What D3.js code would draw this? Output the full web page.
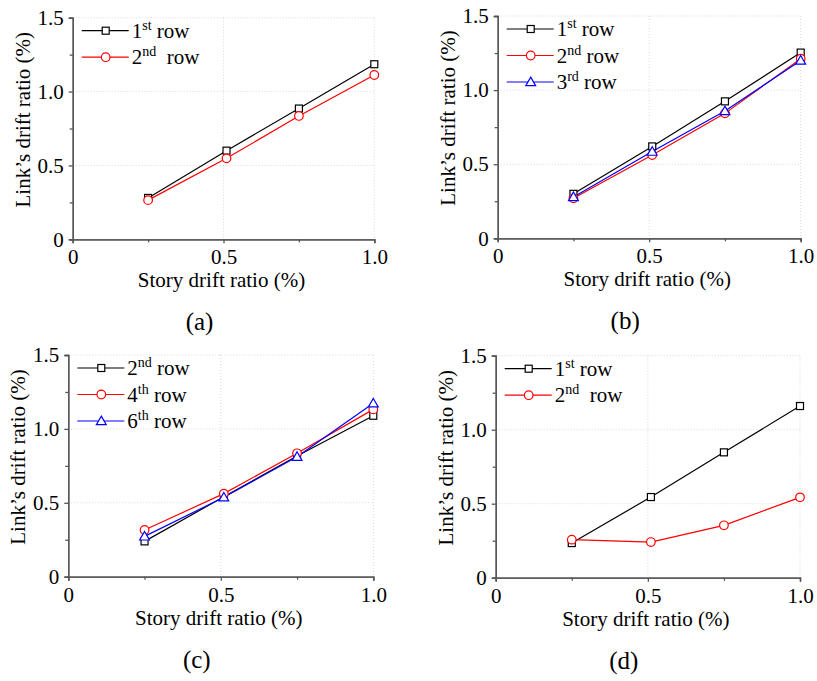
<!DOCTYPE html>
<html>
<head>
<meta charset="utf-8">
<script src="https://cdn.jsdelivr.net/npm/d3@7"></script>
<style>
  body { margin: 0; background: #fff; }
  svg text { font-family: "Liberation Serif", "Times New Roman", serif; }
</style>
</head>
<body>
<svg id="chart" width="817" height="681"></svg>
<script>
// story drift ratio (x) for all panels
const storyDrift = [0.25, 0.51, 0.75, 1.0];
const xTicks = [0, 0.5, 1.0];
const yTicks = [0, 0.5, 1.0, 1.5];

// link drift ratio
const a_row1 = [0.28, 0.60, 0.885, 1.185];
const a_row2 = [0.265, 0.548, 0.835, 1.112];

const b_row1 = [0.30, 0.62, 0.924, 1.253];
const b_row2 = [0.27, 0.562, 0.843, 1.212];
const b_row3 = [0.279, 0.585, 0.859, 1.20];

const c_row2 = [0.239, 0.541, 0.817, 1.089];
const c_row4 = [0.316, 0.562, 0.835, 1.132];
const c_row6 = [0.273, 0.537, 0.812, 1.173];

const d_row1 = [0.234, 0.545, 0.847, 1.160];
const d_row2 = [0.257, 0.241, 0.354, 0.543];

const captions = ["(a)", "(b)", "(c)", "(d)"];
const xTitle = "Story drift ratio (%)";
const yTitle = "Link\u2019s drift ratio (%)";

// series: [values, ordinal number, superscript, suffix, colour, marker]
let panels = [
  { box: [72.7, 374.3, 17.7, 239.3], series: [
      [a_row1, "1", "st", " row", "#000", "square"],
      [a_row2, "2", "nd", "  row", "#ff0000", "circle"]] },
  { box: [497.7, 800.7, 16, 238.3], series: [
      [b_row1, "1", "st", " row", "#000", "square"],
      [b_row2, "2", "nd", " row", "#ff0000", "circle"],
      [b_row3, "3", "rd", " row", "#0000ff", "triangle"]] },
  { box: [68.3, 373.3, 355, 576.7], series: [
      [c_row2, "2", "nd", " row", "#000", "square"],
      [c_row4, "4", "th", " row", "#ff0000", "circle"],
      [c_row6, "6", "th", " row", "#0000ff", "triangle"]] },
  { box: [495.7, 800, 355.7, 577.7], series: [
      [d_row1, "1", "st", " row", "#000", "square"],
      [d_row2, "2", "nd", "  row", "#ff0000", "circle"]] }
];

const svg = d3.select("#chart");

function drawMarker(g, type, cx, cy, color) {
  if (type == "square") {
    g.append("rect").attr("x", cx - 3.5).attr("y", cy - 3.5)
      .attr("width", 7).attr("height", 7)
      .attr("fill", "#fff").attr("stroke", color).attr("stroke-width", 1.2);
  } else if (type == "circle") {
    g.append("circle").attr("cx", cx).attr("cy", cy).attr("r", 4.3)
      .attr("fill", "#fff").attr("stroke", color).attr("stroke-width", 1.2);
  } else {
    g.append("path")
      .attr("d", d3.symbol().type(d3.symbolTriangle).size(42)())
      .attr("transform", "translate(" + cx + "," + (cy + 0.8) + ")")
      .attr("fill", "#fff").attr("stroke", color).attr("stroke-width", 1.2);
  }
}

panels.forEach(function (p, i) {
  let [left, right, top, bottom] = p.box;
  let x = d3.scaleLinear().domain([0, 1.0]).range([left, right]);
  let y = d3.scaleLinear().domain([0, 1.5]).range([bottom, top]);
  let g = svg.append("g");

  // dotted grid
  g.selectAll(".hg").data([0.5, 1.0, 1.5]).enter().append("line")
    .attr("x1", left).attr("x2", right)
    .attr("y1", d => y(d)).attr("y2", d => y(d))
    .attr("stroke", "#d8d8d8").attr("stroke-dasharray", "1,2");
  g.selectAll(".vg").data([0.5, 1.0]).enter().append("line")
    .attr("x1", d => x(d)).attr("x2", d => x(d))
    .attr("y1", top).attr("y2", bottom)
    .attr("stroke", "#d8d8d8").attr("stroke-dasharray", "1,2");

  // minor ticks
  let xAxisMinor = d3.axisBottom(x).tickValues([0.25, 0.75]).tickSize(3).tickFormat("");
  let yAxisMinor = d3.axisLeft(y).tickValues([0.25, 0.75, 1.25]).tickSize(3).tickFormat("");
  g.append("g").attr("transform", "translate(0," + bottom + ")").call(xAxisMinor);
  g.append("g").attr("transform", "translate(" + left + ",0)").call(yAxisMinor);

  let xAxisCall = d3.axisBottom(x).tickValues(xTicks).tickSize(4).tickPadding(6)
    .tickFormat(d => d == 0 ? "0" : d3.format(".1f")(d));
  let yAxisCall = d3.axisLeft(y).tickValues(yTicks).tickSize(4).tickPadding(5)
    .tickFormat(d => d == 0 ? "0" : d3.format(".1f")(d));
  let gx = g.append("g").attr("transform", "translate(0," + bottom + ")").call(xAxisCall);
  let gy = g.append("g").attr("transform", "translate(" + left + ",0)").call(yAxisCall);
  g.selectAll(".domain, .tick line").attr("stroke", "#555").attr("stroke-width", 1.3);
  g.selectAll(".tick text").attr("font-size", 21).attr("fill", "#000")
    .style("font-family", "'Liberation Serif', serif");

  // titles
  g.append("text").attr("x", (left + right) / 2 - 2).attr("y", bottom + 48)
    .attr("text-anchor", "middle").attr("font-size", 21).text(xTitle);
  g.append("text")
    .attr("transform", "translate(" + (left - 43) + "," + (top + 102) + ") rotate(-90)")
    .attr("text-anchor", "middle").attr("font-size", 21).text(yTitle);
  g.append("text").attr("x", (left + right) / 2 - 24).attr("y", bottom + 91)
    .attr("text-anchor", "middle").attr("font-size", 25).text(captions[i]);

  // lines and markers
  let line = d3.line().x((d, j) => x(storyDrift[j])).y(d => y(d));
  p.series.forEach(function (s) {
    g.append("path").datum(s[0]).attr("d", line)
      .attr("fill", "none").attr("stroke", s[4]).attr("stroke-width", 1.2);
  });
  p.series.forEach(function (s) {
    s[0].forEach(function (v, j) {
      drawMarker(g, s[5], x(storyDrift[j]), y(v), s[4]);
    });
  });

  // legend
  p.series.forEach(function (s, k) {
    let ly = top + 13 + k * 26.5;
    let lx = left + 9;
    g.append("line").attr("x1", lx).attr("x2", lx + 47).attr("y1", ly).attr("y2", ly)
      .attr("stroke", s[4]).attr("stroke-width", 1.2);
    drawMarker(g, s[5], lx + 24, ly, s[4]);
    let t = g.append("text").attr("x", lx + 50).attr("y", ly + 7).attr("font-size", 21)
      .attr("xml:space", "preserve").style("white-space", "pre");
    t.append("tspan").text(s[1]);
    t.append("tspan").attr("font-size", 14).attr("dy", -8).text(s[2]);
    t.append("tspan").attr("dy", 8).text(s[3]);
  });
});
</script>
</body>
</html>
